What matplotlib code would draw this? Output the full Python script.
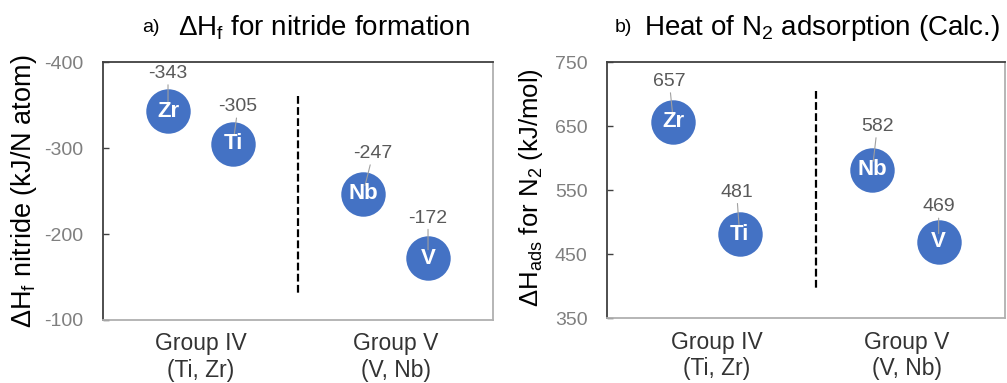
import numpy as np
import matplotlib.pyplot as plt

plt.rcParams['font.family'] = ['Liberation Sans', 'DejaVu Sans']
plt.rcParams['mathtext.fontset'] = 'custom'
plt.rcParams['mathtext.rm'] = 'Liberation Sans'
plt.rcParams['mathtext.it'] = 'Liberation Sans:italic'
plt.rcParams['axes.unicode_minus'] = False

# data
metals = ['Zr', 'Ti', 'Nb', 'V']
dh_nitride = [-343, -305, -247, -172]    # kJ/N atom
dh_ads = [657, 481, 582, 469]            # kJ/mol
group_labels = ['Group IV\n(Ti, Zr)', 'Group V\n(V, Nb)']

# layout
slots = [1, 2, 4, 5]
blue = '#4472C4'
off_a = [(0, 27), (3.6, 26.6), (7.2, 28.8), (0, 28.8)]
off_b = [(-2.9, 28.8), (-2.2, 30.2), (3.6, 31), (0, 25.2)]


def draw_panel(ax, values, offsets, ylim, yticks, divider, group_pos, ylabel, ysize, label_xy):
    ax.set_xlim(0, 6)
    ax.set_ylim(*ylim)
    ax.plot(slots, values, 'o', ms=32, color=blue, mec='none', zorder=3)
    for x, v, m, off in zip(slots, values, metals, offsets):
        ax.text(x, v, m, color='white', fontsize=16, fontweight='bold',
                ha='center', va='center', zorder=5)
        ax.annotate(f'{v}', xy=(x, v), xytext=off, textcoords='offset points',
                    ha='center', va='center', fontsize=14, color='#595959',
                    arrowprops=dict(arrowstyle='-', color='#a0a0a0', lw=0.8,
                                    shrinkA=0, shrinkB=6), zorder=4)
    ax.plot([divider[0], divider[0]], divider[1:], color='black', lw=1.6,
            ls=(0, (3.5, 1.5)))
    ax.set_yticks(yticks)
    ax.tick_params(axis='y', direction='in', length=4, width=1, color='#404040',
                   labelsize=14, labelcolor='#7f7f7f', pad=14)
    ax.set_xticks(group_pos)
    ax.set_xticklabels(group_labels, fontsize=16.5, color='#333333')
    ax.tick_params(axis='x', length=0, pad=9)
    for s in ['left', 'top']:
        ax.spines[s].set_color('#404040')
        ax.spines[s].set_linewidth(1.3)
    for s in ['right', 'bottom']:
        ax.spines[s].set_color('#b0b0b0')
        ax.spines[s].set_linewidth(1.3)
    ax.set_ylabel(ylabel, fontsize=ysize, color='black')
    ax.yaxis.set_label_coords(*label_xy)


fig = plt.figure(figsize=(10.07, 3.83), dpi=100)
ax1 = fig.add_axes([0.1023, 0.1645, 0.3873, 0.6736])
ax2 = fig.add_axes([0.6028, 0.1697, 0.3952, 0.6684])

draw_panel(ax1, dh_nitride, off_a, (-100, -400), [-400, -300, -200, -100],
           (3, -360, -130), [1.5, 4.5],
           r'$\Delta$H$_\mathregular{f}$ nitride (kJ/N atom)', 19.5, (-0.165, 0.5))
draw_panel(ax2, dh_ads, off_b, (350, 750), [350, 450, 550, 650, 750],
           (3.15, 705, 392), [1.66, 4.52],
           r'$\Delta$H$_\mathregular{ads}$ for N$_\mathregular{2}$ (kJ/mol)', 18.5, (-0.155, 0.51))

fig.text(142 / 1007, 1 - 28 / 383, 'a)', fontsize=14, va='center', ha='left')
fig.text(178 / 1007, 1 - 28 / 383, r'$\Delta$H$_\mathregular{f}$ for nitride formation',
         fontsize=20, va='center', ha='left')
fig.text(615 / 1007, 1 - 28 / 383, 'b)', fontsize=14, va='center', ha='left')
fig.text(644 / 1007, 1 - 28 / 383, r'Heat of N$_\mathregular{2}$ adsorption (Calc.)',
         fontsize=20, va='center', ha='left')

plt.savefig('out.png', dpi=100)
plt.close()
